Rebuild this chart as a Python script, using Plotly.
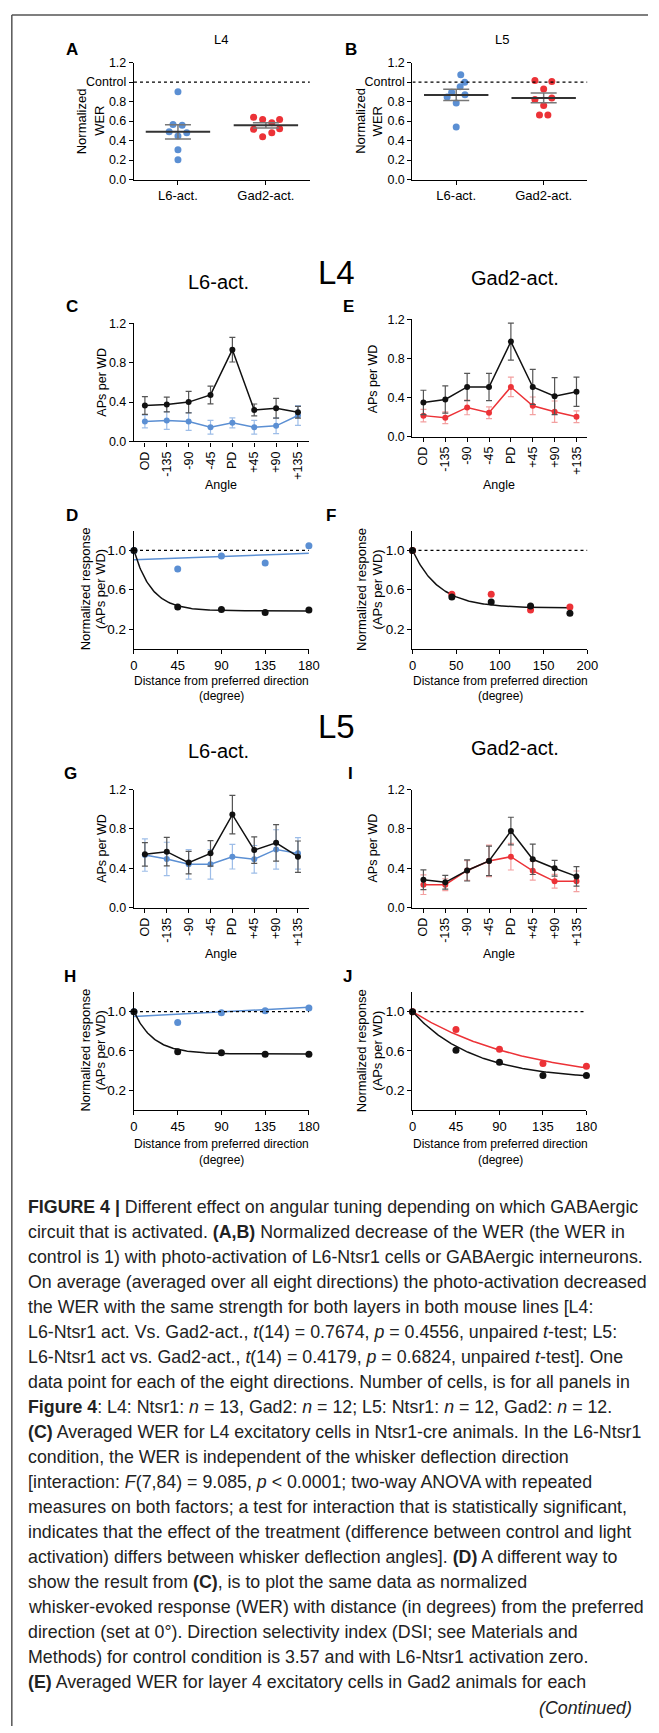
import numpy as np
import plotly.graph_objects as go

# ---------------- DATA ----------------
angles = ["OD", "-135", "-90", "-45", "PD", "+45", "+90", "+135"]
groups = ["L6-act.", "Gad2-act."]
distances = [0, 45, 90, 135, 180]
dist_ticks = [0, 45, 90, 135, 180]
dist_ticks_f = [0, 50, 100, 150, 200]
CONTROL = 1.0

# Panel A (L4) normalized WER, one point per direction
a_l6 = [0.90, 0.566, 0.556, 0.49, 0.48, 0.447, 0.305, 0.203]
a_l6_jitter = [0.0, -0.056, 0.048, -0.10, 0.10, 0.0, 0.0, 0.0]
a_gad = [0.64, 0.617, 0.617, 0.583, 0.515, 0.522, 0.481, 0.44]
a_gad_jitter = [-0.14, -0.037, 0.156, 0.067, -0.14, 0.156, 0.067, -0.037]
a_mean = [0.49, 0.556]
a_sem = [0.073, 0.026]

# Panel B (L5)
b_l6 = [1.075, 0.997, 0.953, 0.895, 0.871, 0.847, 0.786, 0.539]
b_l6_jitter = [0.052, 0.097, 0.045, -0.052, 0.10, -0.104, 0.0, 0.0]
b_gad = [1.017, 1.007, 0.929, 0.82, 0.837, 0.759, 0.661, 0.661]
b_gad_jitter = [-0.10, 0.093, 0.0, -0.10, 0.093, 0.0, -0.048, 0.048]
b_mean = [0.868, 0.837]
b_sem = [0.058, 0.05]

# Panel C (L4, L6-act.) APs per WD
c_ctrl = [0.365, 0.375, 0.40, 0.473, 0.933, 0.321, 0.338, 0.297]
c_ctrl_err = [0.09, 0.075, 0.11, 0.09, 0.125, 0.06, 0.10, 0.06]
c_l6 = [0.203, 0.213, 0.203, 0.145, 0.189, 0.145, 0.159, 0.264]
c_l6_err = [0.065, 0.09, 0.09, 0.07, 0.05, 0.07, 0.08, 0.10]

# Panel E (L4, Gad2-act.)
e_ctrl = [0.349, 0.38, 0.508, 0.508, 0.973, 0.508, 0.414, 0.458]
e_ctrl_err = [0.125, 0.14, 0.14, 0.14, 0.19, 0.18, 0.19, 0.15]
e_gad = [0.214, 0.193, 0.298, 0.244, 0.508, 0.315, 0.254, 0.203]
e_gad_err = [0.065, 0.06, 0.075, 0.06, 0.10, 0.09, 0.11, 0.06]

# Panel G (L5, L6-act.)
g_ctrl = [0.542, 0.569, 0.458, 0.552, 0.946, 0.585, 0.659, 0.518]
g_ctrl_err = [0.12, 0.145, 0.115, 0.13, 0.195, 0.135, 0.185, 0.16]
g_l6 = [0.535, 0.495, 0.441, 0.441, 0.518, 0.492, 0.592, 0.552]
g_l6_err = [0.165, 0.17, 0.15, 0.15, 0.125, 0.14, 0.20, 0.16]

# Panel I (L5, Gad2-act.)
i_ctrl = [0.284, 0.258, 0.378, 0.475, 0.779, 0.492, 0.401, 0.318]
i_ctrl_err = [0.10, 0.07, 0.107, 0.15, 0.14, 0.155, 0.08, 0.10]
i_gad = [0.234, 0.234, 0.378, 0.475, 0.518, 0.375, 0.268, 0.268]
i_gad_err = [0.10, 0.06, 0.10, 0.16, 0.135, 0.095, 0.07, 0.105]

# Normalized response vs distance from preferred direction
d_ctrl = [1.0, 0.425, 0.398, 0.368, 0.395]
d_l6 = [1.0, 0.812, 0.943, 0.872, 1.047]
f_ctrl = [1.0, 0.526, 0.476, 0.435, 0.362]
f_gad = [1.0, 0.553, 0.553, 0.395, 0.425]
h_ctrl = [1.0, 0.593, 0.583, 0.567, 0.567]
h_l6 = [1.0, 0.889, 0.99, 1.01, 1.037]
j_ctrl = [1.0, 0.607, 0.486, 0.351, 0.351]
j_gad = [1.0, 0.818, 0.617, 0.472, 0.445]

# Fit parameters (exponential decay: plateau, rate; linear: intercept, slope)
fit_d_ctrl = (0.385, 0.055)
fit_d_l6 = (0.906, 0.064 / 180)
fit_f_ctrl = (0.415, 0.033)
fit_h_ctrl = (0.57, 0.05)
fit_h_l6 = (0.95, 0.094 / 180)
fit_j_ctrl = (0.308, 0.0158)
fit_j_gad = (0.27, 0.0085)

caption_lines = [
    "<b>FIGURE 4 |</b> Different effect on angular tuning depending on which GABAergic",
    "circuit that is activated. <b>(A,B)</b> Normalized decrease of the WER (the WER in",
    "control is 1) with photo-activation of L6-Ntsr1 cells or GABAergic interneurons.",
    "On average (averaged over all eight directions) the photo-activation decreased",
    "the WER with the same strength for both layers in both mouse lines [L4:",
    "L6-Ntsr1 act. Vs. Gad2-act., <i>t</i>(14) = 0.7674, <i>p</i> = 0.4556, unpaired <i>t</i>-test; L5:",
    "L6-Ntsr1 act vs. Gad2-act., <i>t</i>(14) = 0.4179, <i>p</i> = 0.6824, unpaired <i>t</i>-test]. One",
    "data point for each of the eight directions. Number of cells, is for all panels in",
    "<b>Figure 4</b>: L4: Ntsr1: <i>n</i> = 13, Gad2: <i>n</i> = 12; L5: Ntsr1: <i>n</i> = 12, Gad2: <i>n</i> = 12.",
    "<b>(C)</b> Averaged WER for L4 excitatory cells in Ntsr1-cre animals. In the L6-Ntsr1",
    "condition, the WER is independent of the whisker deflection direction",
    "[interaction: <i>F</i>(7,84) = 9.085, <i>p</i> &lt; 0.0001; two-way ANOVA with repeated",
    "measures on both factors; a test for interaction that is statistically significant,",
    "indicates that the effect of the treatment (difference between control and light",
    "activation) differs between whisker deflection angles]. <b>(D)</b> A different way to",
    "show the result from <b>(C)</b>, is to plot the same data as normalized",
    "whisker-evoked response (WER) with distance (in degrees) from the preferred",
    "direction (set at 0°). Direction selectivity index (DSI; see Materials and",
    "Methods) for control condition is 3.57 and with L6-Ntsr1 activation zero.",
    "<b>(E)</b> Averaged WER for layer 4 excitatory cells in Gad2 animals for each",
]
continued_text = "<i>(Continued)</i>"

# ---------------- STYLE / LAYOUT ----------------
W, H = 659, 1733
BLACK = '#111111'
BLUE = '#5b8fd3'
BLUE_ERR = '#9dbde8'
RED = '#ec3237'
RED_ERR = '#f3a0a0'
GRAY_ERR = '#555555'
FONT = 'Liberation Sans, Arial, sans-serif'
CAP_SIZE = 17.8


def fx(p):
    return p / W


def fy(p):
    return 1 - p / H


boxes = {
    'A': (1, 133, 313, 56, 174),
    'B': (2, 418, 597, 56, 174),
    'C': (3, 133, 312, 319, 438),
    'E': (4, 418, 597, 315, 433),
    'D': (5, 133, 312, 528, 647),
    'F': (6, 418, 597, 528, 647),
    'G': (7, 133, 312, 789, 908),
    'I': (8, 418, 597, 789, 908),
    'H': (9, 133, 312, 993, 1112),
    'J': (10, 418, 596, 993, 1112),
}


def axname(n, a):
    return f'{a}axis' + ('' if n == 1 else str(n))


def ref(n, a):
    return a + ('' if n == 1 else str(n))


layout = dict(width=W, height=H, margin=dict(l=0, r=0, t=0, b=0),
              paper_bgcolor='white', plot_bgcolor='white', showlegend=False,
              font=dict(family=FONT, color='black'))

base_axis = dict(showline=True, linecolor='black', linewidth=1.3, ticks='outside',
                 ticklen=4, tickwidth=1.3, tickcolor='black', showgrid=False,
                 zeroline=False, fixedrange=True,
                 tickfont=dict(size=12.5, family=FONT, color='black'))

for key, (n, x0, x1, y0, y1) in boxes.items():
    layout[axname(n, 'x')] = dict(base_axis, domain=[fx(x0), fx(x1)], anchor=ref(n, 'y'))
    layout[axname(n, 'y')] = dict(base_axis, domain=[fy(y1), fy(y0)], anchor=ref(n, 'x'))

fig = go.Figure()
shapes = []
annotations = []


def ann(text, x, y, size, bold=False, angle=0, xanchor='center', color='black'):
    annotations.append(dict(text=(f'<b>{text}</b>' if bold else text), x=fx(x), y=fy(y),
                            xref='paper', yref='paper', showarrow=False,
                            xanchor=xanchor, yanchor='middle', textangle=angle,
                            font=dict(size=size, family=FONT, color=color)))


# ---- Panels A & B: scatter with mean +/- SEM ----
for key, l6, l6j, gad, gadj, mean, sem in [
        ('A', a_l6, a_l6_jitter, a_gad, a_gad_jitter, a_mean, a_sem),
        ('B', b_l6, b_l6_jitter, b_gad, b_gad_jitter, b_mean, b_sem)]:
    n = boxes[key][0]
    xa, ya = ref(n, 'x'), ref(n, 'y')
    layout[axname(n, 'x')].update(range=[-0.5, 1.5], tickvals=[0, 1], ticktext=groups,
                                  tickfont=dict(size=13, family=FONT, color='black'))
    layout[axname(n, 'y')].update(range=[0, 1.2], tickvals=[0, 0.2, 0.4, 0.6, 0.8, 1.0, 1.2],
                                  ticktext=['0.0', '0.2', '0.4', '0.6', '0.8', 'Control', '1.2'],
                                  tickfont=dict(size=12.5, family=FONT, color='black'))
    shapes.append(dict(type='line', xref=xa, yref=ya, x0=-0.5, x1=1.5, y0=CONTROL, y1=CONTROL,
                       line=dict(color='black', width=1.2, dash='dot')))
    fig.add_trace(go.Scatter(x=[0 + j for j in l6j], y=l6, mode='markers', xaxis=xa, yaxis=ya,
                             marker=dict(color=BLUE, size=7), cliponaxis=False))
    fig.add_trace(go.Scatter(x=[1 + j for j in gadj], y=gad, mode='markers', xaxis=xa, yaxis=ya,
                             marker=dict(color=RED, size=7), cliponaxis=False))
    fig.add_trace(go.Scatter(x=[0, 1], y=mean, mode='markers', xaxis=xa, yaxis=ya,
                             marker=dict(symbol='line-ew', size=46, color='#333',
                                         line=dict(width=2, color='#333')),
                             error_y=dict(type='data', array=sem, width=13, thickness=1.5,
                                          color='#777'),
                             cliponaxis=False))

# ---- Tuning curves C, E, G, I ----
for key, ctrl, ctrl_err, act, act_err, col, ecol in [
        ('C', c_ctrl, c_ctrl_err, c_l6, c_l6_err, BLUE, BLUE_ERR),
        ('E', e_ctrl, e_ctrl_err, e_gad, e_gad_err, RED, RED_ERR),
        ('G', g_ctrl, g_ctrl_err, g_l6, g_l6_err, BLUE, BLUE_ERR),
        ('I', i_ctrl, i_ctrl_err, i_gad, i_gad_err, RED, RED_ERR)]:
    n = boxes[key][0]
    xa, ya = ref(n, 'x'), ref(n, 'y')
    layout[axname(n, 'x')].update(range=[-0.5, 7.5], tickvals=list(range(len(angles))),
                                  ticktext=angles, tickangle=-90)
    layout[axname(n, 'y')].update(range=[0, 1.2], tickvals=[0, 0.4, 0.8, 1.2], tickformat='.1f')
    xs = list(range(len(angles)))
    fig.add_trace(go.Scatter(x=xs, y=act, mode='lines+markers', xaxis=xa, yaxis=ya,
                             line=dict(color=col, width=1.5), marker=dict(color=col, size=6),
                             error_y=dict(type='data', array=act_err, color=ecol, thickness=1.2, width=3),
                             cliponaxis=False))
    fig.add_trace(go.Scatter(x=xs, y=ctrl, mode='lines+markers', xaxis=xa, yaxis=ya,
                             line=dict(color=BLACK, width=1.5), marker=dict(color=BLACK, size=6),
                             error_y=dict(type='data', array=ctrl_err, color=GRAY_ERR, thickness=1.2, width=3),
                             cliponaxis=False))


# ---- Normalized response D, F, H, J ----
def expfit(x, p):
    plateau, k = p
    return plateau + (1 - plateau) * np.exp(-k * x)


def linfit(x, p):
    b, m = p
    return b + m * x


for key, ctrl, act, col, xmax, ticks, fits in [
        ('D', d_ctrl, d_l6, BLUE, 180, dist_ticks, [(linfit, fit_d_l6, BLUE), (expfit, fit_d_ctrl, BLACK)]),
        ('F', f_ctrl, f_gad, RED, 200, dist_ticks_f, [(expfit, fit_f_ctrl, BLACK)]),
        ('H', h_ctrl, h_l6, BLUE, 180, dist_ticks, [(linfit, fit_h_l6, BLUE), (expfit, fit_h_ctrl, BLACK)]),
        ('J', j_ctrl, j_gad, RED, 180, dist_ticks, [(expfit, fit_j_gad, RED), (expfit, fit_j_ctrl, BLACK)])]:
    n = boxes[key][0]
    xa, ya = ref(n, 'x'), ref(n, 'y')
    layout[axname(n, 'x')].update(range=[0, xmax], tickvals=ticks,
                                  tickfont=dict(size=13, family=FONT, color='black'))
    layout[axname(n, 'y')].update(range=[0, 1.2], tickvals=[0.2, 0.6, 1.0], tickformat='.1f',
                                  tickfont=dict(size=13.5, family=FONT, color='black'))
    shapes.append(dict(type='line', xref=xa, yref=ya, x0=0, x1=xmax, y0=CONTROL, y1=CONTROL,
                       line=dict(color='black', width=1.2, dash='dot')))
    xc = np.linspace(0, 180, 181)
    for f, p, c in fits:
        fig.add_trace(go.Scatter(x=xc, y=f(xc, p), mode='lines', xaxis=xa, yaxis=ya,
                                 line=dict(color=c, width=1.5), cliponaxis=False))
    fig.add_trace(go.Scatter(x=distances, y=act, mode='markers', xaxis=xa, yaxis=ya,
                             marker=dict(color=col, size=7), cliponaxis=False))
    fig.add_trace(go.Scatter(x=distances, y=ctrl, mode='markers', xaxis=xa, yaxis=ya,
                             marker=dict(color=BLACK, size=7), cliponaxis=False))

# ---------------- TEXT ----------------
# panel letters
for letter, x, y in [('A', 70, 43), ('B', 355, 43), ('C', 70, 302), ('E', 353, 302),
                     ('D', 70, 513), ('F', 335, 513), ('G', 68, 773), ('I', 355, 773),
                     ('H', 68, 977), ('J', 352, 977)]:
    ann(letter, x, y, 17, bold=True)

ann('L4', 222, 33, 13)
ann('L5', 510, 33, 13)
ann('L4', 340, 268, 33)
ann('L5', 340, 725, 33)
ann('L6-act.', 220, 277, 20)
ann('Gad2-act.', 523, 273, 20)
ann('L6-act.', 220, 750, 20)
ann('Gad2-act.', 523, 747, 20)

# y titles
ann('Normalized', 79, 115, 13, angle=-90)
ann('WER', 97, 115, 13, angle=-90)
ann('Normalized', 364, 115, 13, angle=-90)
ann('WER', 382, 115, 13, angle=-90)
for x, y in [(100, 378), (378, 375), (100, 848), (378, 848)]:
    ann('APs per WD', x, y, 12.5, angle=-90)
for x1, x2, y in [(83, 99, 587), (366, 382, 587), (83, 99, 1052), (366, 382, 1052)]:
    ann('Normalized response', x1, y, 13, angle=-90)
    ann('(APs per WD)', x2, y, 13, angle=-90)

# x titles
for x, y in [(222, 482), (507, 482), (222, 955), (507, 955)]:
    ann('Angle', x, y, 12.5)
for x, y in [(223, 679), (508, 679), (223, 1146), (508, 1146)]:
    ann('Distance from preferred direction', x, y, 12)
    ann('(degree)', x, y + 16, 12)

# caption
for i, line in enumerate(caption_lines):
    ann(line, 23, 1210 + i * 25.2, CAP_SIZE, xanchor='left', color='#222')
ann(continued_text, 645, 1715, CAP_SIZE, xanchor='right', color='#222')

# frame
shapes.append(dict(type='line', xref='paper', yref='paper', x0=fx(8), x1=1, y0=fy(8), y1=fy(8),
                   line=dict(color='#555', width=1.5)))
shapes.append(dict(type='line', xref='paper', yref='paper', x0=fx(8), x1=fx(8), y0=fy(8), y1=0,
                   line=dict(color='#555', width=1.5)))

layout['shapes'] = shapes
layout['annotations'] = annotations
fig.update_layout(**layout)
fig.write_html('out.html', config={'displayModeBar': False})
